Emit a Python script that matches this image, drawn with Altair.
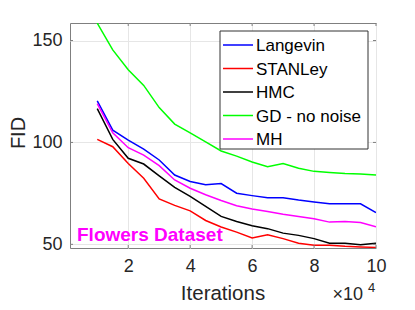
import altair as alt
import pandas as pd

# ---------------- data ----------------
iters = [1, 1.5, 2, 2.5, 3, 3.5, 4, 4.5, 5, 5.5, 6, 6.5, 7, 7.5, 8, 8.5, 9, 9.5, 10]
langevin = [120.4, 106.0, 101.1, 96.7, 91.4, 84.0, 80.8, 79.2, 79.8, 75.1, 73.9, 72.8, 72.8, 71.7, 70.8, 69.9, 69.9, 69.9, 65.6]
stanley = [101.5, 97.9, 89.7, 82.4, 72.3, 69.1, 66.4, 61.7, 58.5, 56.0, 53.1, 54.7, 52.8, 50.5, 49.5, 49.5, 49.0, 48.7, 48.5]
hmc = [116.6, 101.5, 92.2, 89.4, 83.6, 77.9, 73.5, 68.6, 63.7, 61.2, 59.1, 57.7, 55.5, 54.4, 52.8, 50.5, 50.5, 49.8, 50.5]
gd = [158.5, 145.4, 135.7, 128.0, 117.1, 109.0, 104.7, 100.3, 95.8, 93.3, 90.4, 88.1, 89.6, 87.3, 85.8, 85.2, 84.7, 84.5, 84.0]
mh = [119.0, 104.7, 97.4, 93.8, 88.6, 81.6, 77.5, 74.3, 71.5, 68.9, 67.3, 66.1, 64.8, 63.7, 62.5, 60.9, 61.2, 60.7, 58.6]

names = ["Langevin", "STANLey", "HMC", "GD - no noise", "MH"]
colors = ["#0000ff", "#ff0000", "#000000", "#00ff00", "#ff00ff"]
series = [langevin, stanley, hmc, gd, mh]

x_ticks = [2, 4, 6, 8, 10]
y_ticks = [50, 100, 150]
x_title = "Iterations"
y_title = "FID"
exp_base = "×10"
exp_power = "4"
annotation = "Flowers Dataset"

# ---------------- layout ----------------
W, H = 306, 225
FONT = "Liberation Sans"
FRAME = "#7f7f7f"
TXT = "#262626"

rows = []
for n, vals in zip(names, series):
    for xv, yv in zip(iters, vals):
        rows.append({"x": xv, "y": yv, "method": n})
df = pd.DataFrame(rows)

xs = alt.Scale(domain=[0.12, 10], nice=False, zero=False)
ys = alt.Scale(domain=[48.2, 158.6], nice=False, zero=False)
xa = alt.Axis(values=x_ticks, format="d", title=None, grid=True, labelPadding=9, labelFlush=False)
ya = alt.Axis(values=y_ticks, format="d", title=None, grid=True, labelPadding=8, labelFlush=False)

lines = alt.Chart(df).mark_line(strokeWidth=1.5, clip=True).encode(
    x=alt.X("x:Q", scale=xs, axis=xa),
    y=alt.Y("y:Q", scale=ys, axis=ya),
    color=alt.Color("method:N", scale=alt.Scale(domain=names, range=colors), legend=None),
    detail="method:N",
)

# inward tick marks on all four sides
xt = pd.DataFrame({"x": x_ticks})
yt = pd.DataFrame({"y": y_ticks})
tick_b = alt.Chart(xt).mark_rule(color=FRAME).encode(
    x=alt.X("x:Q", scale=xs, axis=xa), y=alt.value(H), y2=alt.value(H - 3))
tick_t = alt.Chart(xt).mark_rule(color=FRAME).encode(
    x=alt.X("x:Q", scale=xs, axis=xa), y=alt.value(0), y2=alt.value(3))
tick_l = alt.Chart(yt).mark_rule(color=FRAME).encode(
    y=alt.Y("y:Q", scale=ys, axis=ya), x=alt.value(0), x2=alt.value(3))
tick_r = alt.Chart(yt).mark_rule(color=FRAME).encode(
    y=alt.Y("y:Q", scale=ys, axis=ya), x=alt.value(W), x2=alt.value(W - 3))

one = pd.DataFrame({"k": [0]})

# legend box
leg_x0, leg_x1, leg_y0, leg_y1 = 150, 298, 8, 126
legend_box = alt.Chart(one).mark_rect(fill="white", stroke="#333333", strokeWidth=1).encode(
    x=alt.value(leg_x0), x2=alt.value(leg_x1), y=alt.value(leg_y0), y2=alt.value(leg_y1))

legend_layers = [legend_box]
for i, (n, c) in enumerate(zip(names, colors)):
    yy = 22 + 23.5 * i
    legend_layers.append(
        alt.Chart(one).mark_rule(color=c, strokeWidth=1.5).encode(
            x=alt.value(153), x2=alt.value(183), y=alt.value(yy)))
    legend_layers.append(
        alt.Chart(pd.DataFrame({"t": [n]})).mark_text(
            align="left", baseline="middle", font=FONT, fontSize=17, color="#000000", dy=1
        ).encode(text="t:N", x=alt.value(186), y=alt.value(yy)))


def label(t, px, py, **kw):
    return alt.Chart(pd.DataFrame({"t": [t]})).mark_text(font=FONT, **kw).encode(
        text="t:N", x=alt.value(px), y=alt.value(py))


t_x = label(x_title, W / 2, 276.5, align="center", baseline="alphabetic", fontSize=20.5, color=TXT)
t_y = label(y_title, -45, 110, align="center", baseline="alphabetic", fontSize=20, angle=270, color=TXT)
t_e1 = label(exp_base, 293, 276.5, align="right", baseline="alphabetic", fontSize=18, color=TXT)
t_e2 = label(exp_power, 298, 269, align="left", baseline="alphabetic", fontSize=13, color=TXT)
t_ann = label(annotation, 7, 217.5, align="left", baseline="alphabetic", fontSize=19,
              fontWeight="bold", color="#ff00ff")

chart = alt.layer(
    lines, tick_b, tick_t, tick_l, tick_r, *legend_layers, t_ann, t_x, t_y, t_e1, t_e2
).properties(
    width=W, height=H,
    padding={"left": 62, "top": 15, "right": 31, "bottom": 54},
    autosize=alt.AutoSizeParams(type="none"),
).configure_view(
    stroke=FRAME, strokeWidth=1
).configure_axis(
    domain=False, ticks=False, gridColor="#e6e6e6", gridWidth=1,
    labelFont=FONT, labelFontSize=18, labelColor=TXT,
)

chart.save("out.html", embed_options={"renderer": "svg", "actions": False})
